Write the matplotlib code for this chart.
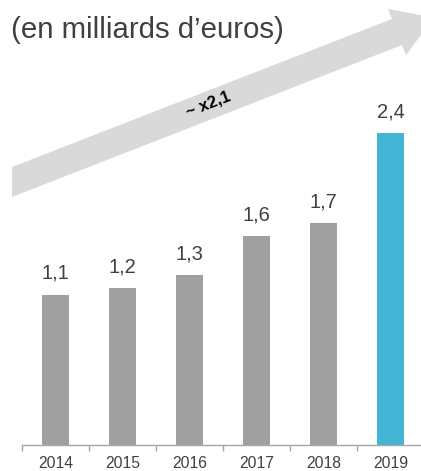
import matplotlib.pyplot as plt
from matplotlib.patches import Polygon

plt.rcParams['font.family'] = ['Liberation Sans', 'DejaVu Sans']

years = ['2014', '2015', '2016', '2017', '2018', '2019']
values = [1.15, 1.2, 1.3, 1.6, 1.7, 2.39]
labels = ['1,1', '1,2', '1,3', '1,6', '1,7', '2,4']
colors = ['#A0A0A0'] * 5 + ['#42B4D4']

W, H = 421, 471
fig = plt.figure(figsize=(W / 100, H / 100), dpi=100)

# axes placed in pixel terms of the original image
ax = fig.add_axes([22 / W, 26 / H, 402 / W, 445 / H])
x = range(len(years))
ax.bar(x, values, width=0.4, color=colors)
ax.set_xlim(-0.5, 5.5)
ax.set_ylim(0, 445 / 130.5)

for xi, v, lab in zip(x, values, labels):
    ax.annotate(lab, (xi, v), xytext=(0, 11.5), textcoords='offset points',
                ha='center', va='baseline', fontsize=14.5, color='#404040')

ax.set_xticks(list(x))
ax.set_xticklabels(years, fontsize=11.3, color='#404040')
ax.tick_params(axis='x', which='major', length=0, pad=8)
ax.set_xticks([i - 0.5 for i in range(7)], minor=True)
ax.tick_params(axis='x', which='minor', length=4, color='#A6A6A6', width=1)
ax.set_yticks([])
for s in ['top', 'right', 'left']:
    ax.spines[s].set_visible(False)
ax.spines['bottom'].set_color('#A6A6A6')
ax.spines['bottom'].set_linewidth(1)

# growth arrow (pixel coords, y down)
pts = [(12, 167), (392, 19), (388, 9), (434, 17.5), (406, 55), (402, 45), (12, 197)]
arrow = Polygon([(px / W, 1 - py / H) for px, py in pts], closed=True,
                transform=fig.transFigure, facecolor='#D9D9D9', edgecolor='none', zorder=0)
fig.patches.append(arrow)
fig.text(208 / W, 1 - 104 / H, '~ x2,1', rotation=21, ha='center', va='center',
         fontsize=12, fontweight='bold', color='black')

fig.text(11 / W, 1 - 38 / H, '(en milliards d\u2019euros)', fontsize=21.2,
         color='#404040', ha='left', va='baseline')

fig.savefig('out.png', dpi=100)
